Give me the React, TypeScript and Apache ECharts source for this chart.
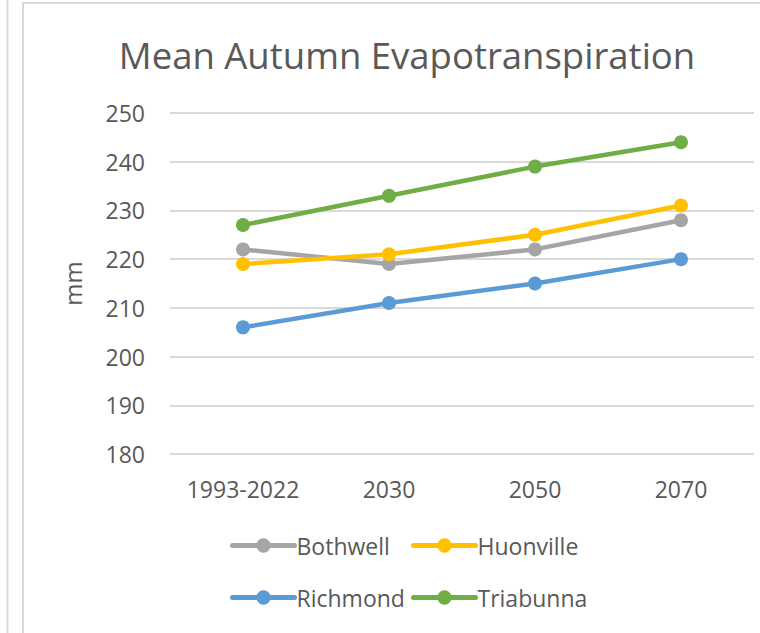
import React, { useEffect, useRef } from "react";
import * as echarts from "echarts";

const categories = ["1993-2022", "2030", "2050", "2070"];
const bothwell = [222, 219, 222, 228];
const huonville = [219, 221, 225, 231];
const richmond = [206, 211, 215, 220];
const triabunna = [227, 233, 239, 244];
const seriesNames = ["Bothwell", "Huonville", "Richmond", "Triabunna"];
const seriesColors = ["#a5a5a5", "#ffc000", "#5b9bd5", "#70ad47"];

const FONT = "'Open Sans', 'Noto Sans', sans-serif";
const TXT = "#595959";

export default function App() {
  const ref = useRef<HTMLDivElement>(null);
  useEffect(() => {
    if (!ref.current) return;
    const chart = echarts.init(ref.current, null, { renderer: "svg" });
    const data = [bothwell, huonville, richmond, triabunna];
    const legendPos = [
      { left: 230, top: 534 },
      { left: 411, top: 534 },
      { left: 230, top: 586 },
      { left: 411, top: 586 },
    ];
    chart.setOption({
      animation: false,
      backgroundColor: "#ffffff",
      title: {
        text: "Mean Autumn Evapotranspiration",
        left: 402,
        textAlign: "center",
        top: 31,
        textStyle: { fontFamily: FONT, fontSize: 36.5, fontWeight: "normal", color: TXT },
      },
      legend: seriesNames.map((n, i) => ({
        data: [n],
        left: legendPos[i].left,
        top: legendPos[i].top,
        padding: 0,
        itemWidth: 62,
        itemHeight: 18,
        itemGap: 0,
        lineStyle: { width: 5, cap: "round" },
        textStyle: { fontFamily: FONT, fontSize: 23, color: TXT, padding: [0, 0, 0, -3] },
      })),
      grid: { left: 170, right: 6, top: 113, bottom: 179 },
      xAxis: {
        type: "category",
        data: categories,
        boundaryGap: true,
        axisLine: { show: false },
        axisTick: { show: false },
        axisLabel: { fontFamily: FONT, fontSize: 23, color: TXT, margin: 23, interval: 0 },
      },
      yAxis: {
        type: "value",
        min: 180,
        max: 250,
        interval: 10,
        name: "mm",
        nameLocation: "middle",
        nameGap: 86,
        nameRotate: 90,
        nameTextStyle: { fontFamily: FONT, fontSize: 24, color: TXT },
        axisLine: { show: false },
        axisTick: { show: false },
        axisLabel: { fontFamily: FONT, fontSize: 23, color: TXT, margin: 25 },
        splitLine: { lineStyle: { color: "#d9d9d9", width: 2 } },
      },
      series: seriesNames.map((n, i) => ({
        name: n,
        type: "line",
        data: data[i],
        color: seriesColors[i],
        symbol: "circle",
        symbolSize: 14,
        lineStyle: { width: 4.5, cap: "round" },
        z: 2 + i,
      })),
      graphic: [
        { type: "line", shape: { x1: 7.5, y1: 0, x2: 7.5, y2: 633 }, style: { stroke: "#d9d9d9", lineWidth: 2 } },
        { type: "line", shape: { x1: 23, y1: 3, x2: 23, y2: 633 }, style: { stroke: "#d9d9d9", lineWidth: 2 } },
        { type: "line", shape: { x1: 22, y1: 3, x2: 760, y2: 3 }, style: { stroke: "#d9d9d9", lineWidth: 2 } },
      ],
    });
    return () => chart.dispose();
  }, []);
  return <div ref={ref} style={{ position: "fixed", left: 0, top: 0, width: 760, height: 633 }} />;
}
